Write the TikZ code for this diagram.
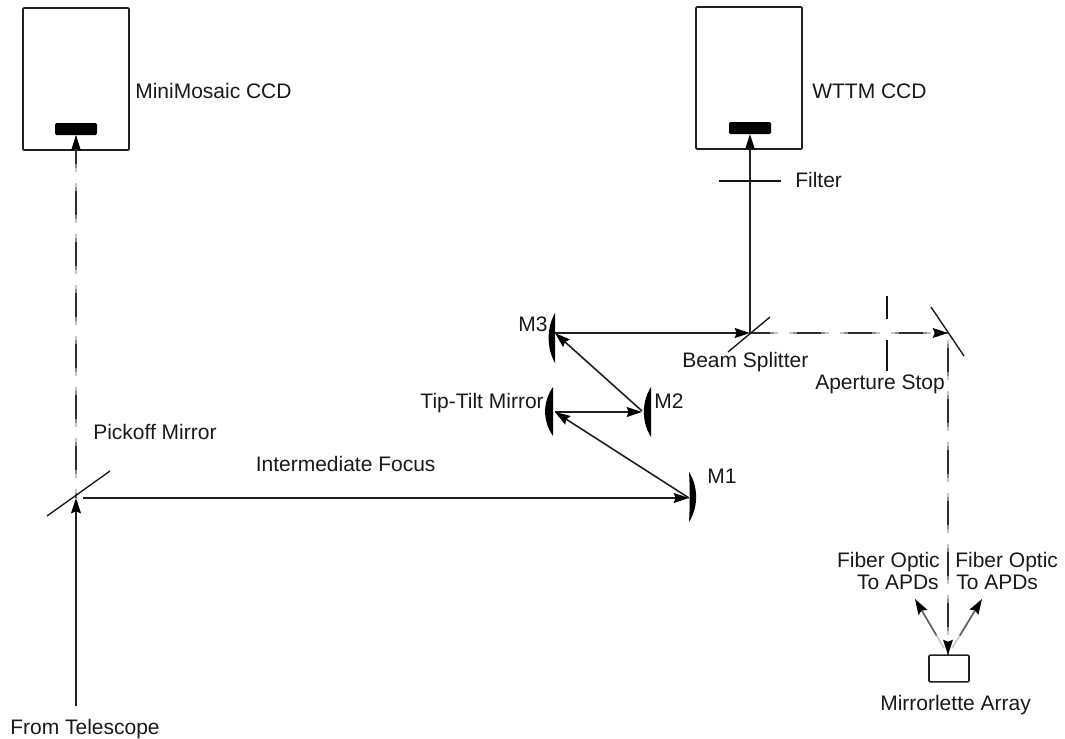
\documentclass[tikz,border=0pt]{standalone}
\usepackage{fontspec}
\setmainfont{Liberation Sans}
\usetikzlibrary{arrows.meta}
\newcommand{\dbeam}[3]{%
  \foreach \len/\shade/\wid in {40/22/1.2,32/45/1.2,24/82/1.2}{%
    \pgfmathsetmacro{\dashon}{\len*0.75}%
    \pgfmathsetmacro{\dashoff}{(51-\len)*0.75}%
    \pgfmathsetmacro{\dashph}{mod(\len/2-#3+510,51)*0.75}%
    \draw[line width=\wid pt,draw=black!\shade,dash pattern=on \dashon pt off \dashoff pt,dash phase=\dashph pt] (#1) -- (#2);
  }}
\begin{document}
\begin{tikzpicture}[x=0.75pt,y=-0.75pt,
  ln/.style={line width=1.2pt,draw=black!88},
  thin ln/.style={line width=1pt,draw=black!92},
  tipped/.style={-{Stealth[length=11.5pt,width=7.5pt,inset=1.5pt,black]}},
  beam/.style={ln,tipped},
  box/.style={draw=black!88,line width=1.2pt,fill=white,rounded corners=0.8pt,inner sep=0pt},
  detector/.style={fill=black,rounded corners=1pt,inner sep=0pt},
  lab/.style={font=\fontsize{15.75pt}{18pt}\selectfont,inner sep=0pt,anchor=base west,text=black!90},
  labr/.style={font=\fontsize{15.75pt}{18pt}\selectfont,inner sep=0pt,anchor=base east,text=black!90},
  lens/.style={fill=black},
  head/.style={fill=black}]
\useasboundingbox (0,0) rectangle (1065,739);
% boxes and detectors
\node[box,minimum width=79.5pt,minimum height=106.5pt] (mini) at (76,79) {};
\node[box,minimum width=79.5pt,minimum height=106.5pt] (wttm) at (749,78) {};
\node[detector,minimum width=31.5pt,minimum height=9pt] (minidet) at (76,129) {};
\node[detector,minimum width=31.5pt,minimum height=9pt] (wttmdet) at (750,128) {};
\node[box,minimum width=30pt,minimum height=20pt] (array) at (949,668.5) {};
% optical points
\coordinate (start) at (76,706);
\coordinate (pick) at (76,498);
\coordinate (pickout) at (83,498);
\coordinate (pickA) at (47,516);
\coordinate (pickB) at (110,471);
\coordinate (m1) at (689,498);
\coordinate (tt) at (555,412);
\coordinate (ttout) at (555,412);
\coordinate (m2) at (642,412);
\coordinate (m2out) at (642,411);
\coordinate (m3) at (555,333);
\coordinate (bs) at (750,333);
\coordinate (bsA) at (728,352);
\coordinate (bsB) at (770,317);
\coordinate (fold) at (948,333);
\coordinate (foldA) at (931,307);
\coordinate (foldB) at (964,356);
\coordinate (filterA) at (719,181);
\coordinate (filterB) at (781,181);
\coordinate (stopA) at (887,296);
\coordinate (stopB) at (887,319);
\coordinate (stopC) at (887,340);
\coordinate (stopD) at (887,371);
\coordinate (fibA) at (915,599);
\coordinate (fibB) at (982,599);
\coordinate (arrtop) at (948,655);
% mirrors
\fill[lens] (555,313) .. controls (546.5,328) and (546.5,348) .. (555,363) -- cycle;
\fill[lens] (553,387) .. controls (542.5,402) and (542.5,421) .. (553,436) -- cycle;
\fill[lens] (651,387) .. controls (641.5,402) and (641.5,422) .. (651,437) -- cycle;
\fill[lens] (689,472) .. controls (698.5,487) and (698.5,507) .. (689,522) .. controls (690,507) and (690,487) .. (689,472) -- cycle;
% dashed beams
\dbeam{pick}{minidet.south}{40}
\dbeam{bs}{fold}{8}
\dbeam{fold}{arrtop}{27}
% heads of the dashed beams
\fill[head] (minidet.south) -- ++(-3.75pt,-11.5pt) -- ++(3.75pt,1.5pt) -- ++(3.75pt,-1.5pt) -- cycle;
\fill[head] (fold) -- ++(-11.5pt,-3.75pt) -- ++(1.5pt,3.75pt) -- ++(-1.5pt,3.75pt) -- cycle;
\fill[head] (arrtop) -- ++(-3.75pt,11.5pt) -- ++(3.75pt,-1.5pt) -- ++(3.75pt,1.5pt) -- cycle;
% thin optics
\draw[thin ln] (pickA) -- (pickB);
\draw[thin ln] (bsA) -- (bsB);
\draw[thin ln] (foldA) -- (foldB);
\draw[thin ln] (filterA) -- (filterB);
\draw[thin ln] (stopA) -- (stopB);
\draw[thin ln] (stopC) -- (stopD);
% solid beams
\draw[beam] (start) -- (pick);
\draw[beam] (pickout) -- (m1);
\draw[beam] (m1) -- (tt);
\draw[beam] (ttout) -- (m2);
\draw[beam] (m2out) -- (m3);
\draw[beam] (m3) -- (bs);
\draw[beam] (bs) -- (wttmdet.south);
% fibre beams
\draw[line width=1.2pt,draw=black!22,shorten >=6pt,shorten <=6pt] (arrtop) -- (fibA);
\draw[line width=1.2pt,draw=black!22,shorten >=6pt,shorten <=6pt] (arrtop) -- (fibB);
\draw[line width=1.2pt,draw=black!62,tipped,shorten <=17pt] (arrtop) -- (fibA);
\draw[line width=1.2pt,draw=black!62,tipped,shorten <=17pt] (arrtop) -- (fibB);
% labels
\node[lab] (l1) at (135,98) {MiniMosaic CCD};
\node[lab] (l2) at (812,98) {WTTM CCD};
\node[lab] (l3) at (795,187) {Filter};
\node[lab] (l4) at (682,367) {Beam Splitter};
\node[lab] (l5) at (815,389) {Aperture Stop};
\node[lab] (l6) at (518,331) {M3};
\node[labr] (l7) at (544,408) {Tip-Tilt Mirror};
\node[lab] (l8) at (654,408) {M2};
\node[lab] (l9) at (707,483) {M1};
\node[lab] (l10) at (255.5,471) {Intermediate Focus};
\node[lab] (l11) at (93,439) {Pickoff Mirror};
\node[labr] (l12) at (940,567) {Fiber Optic};
\node[labr] (l13) at (939,589) {To APDs};
\node[lab] (l14) at (955,567) {Fiber Optic};
\node[lab] (l15) at (956,589) {To APDs};
\node[lab] (l16) at (880,710) {Mirrorlette Array};
\node[lab] (l17) at (10,734) {From Telescope};
\end{tikzpicture}
\end{document}
